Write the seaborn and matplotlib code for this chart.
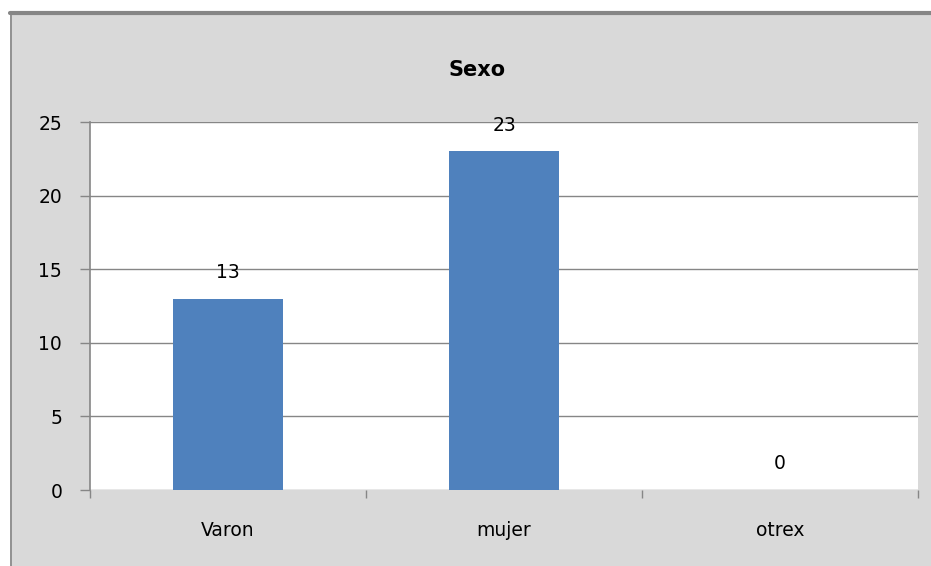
import matplotlib
matplotlib.use("Agg")
import matplotlib.pyplot as plt
import matplotlib.patches as mpatches
import seaborn as sns
import numpy as np

categorias = ["Varon", "mujer", "otrex"]
valores = [13, 23, 0]
titulo = "Sexo"
y_ticks = [0, 5, 10, 15, 20, 25]

sns.set_style("white")
plt.rcParams["font.family"] = ["DejaVu Sans"]
plt.rcParams["text.color"] = "black"
plt.rcParams["xtick.color"] = "black"
plt.rcParams["ytick.color"] = "black"

fig = plt.figure(figsize=(9.31, 5.66), dpi=100)
fig.patch.set_facecolor("white")

# panel gris con borde arriba e izquierda
W, H = 931, 566
fondo = mpatches.Rectangle((10 / W, 0), 1 - 10 / W, 1 - 13 / H, transform=fig.transFigure,
                           facecolor="#d9d9d9", edgecolor="none", zorder=-2)
fig.add_artist(fondo)
fig.add_artist(plt.Line2D([10 / W, 1], [1 - 13 / H, 1 - 13 / H], transform=fig.transFigure,
                          color="#868686", lw=3, zorder=-1))
fig.add_artist(plt.Line2D([10.5 / W, 10.5 / W], [0, 1 - 13 / H], transform=fig.transFigure,
                          color="#868686", lw=1.2, zorder=-1))

ax = fig.add_axes([90 / W, 1 - 490 / H, 828 / W, 368 / H])
ax.set_facecolor("white")

sns.barplot(x=categorias, y=valores, color="#4f81bd", width=0.4, saturation=1,
            edgecolor="none", linewidth=0, ax=ax, zorder=3)

ax.set_ylim(0, 25)
ax.set_xlim(-0.5, 2.5)
ax.set_yticks(y_ticks)
ax.yaxis.grid(True, color="#868686", lw=1)
ax.set_axisbelow(True)

for s in ["top", "right", "bottom"]:
    ax.spines[s].set_visible(False)
ax.spines["left"].set_color("#868686")
ax.spines["left"].set_linewidth(1.2)

ax.tick_params(axis="y", left=True, length=7, width=1, color="#868686",
               labelsize=13.5, pad=13, labelcolor="black")
ax.tick_params(axis="x", bottom=False, labelsize=13.5, pad=19, labelcolor="black")
ax.set_xticks(np.arange(-0.5, 3.0, 1.0), minor=True)
ax.tick_params(axis="x", which="minor", bottom=True, length=6, width=1, color="#868686")

ax.set_xlabel("")
ax.set_ylabel("")

for i, v in enumerate(valores):
    ax.annotate(str(v), (i, v), xytext=(0, 12), textcoords="offset points",
                ha="center", va="bottom", fontsize=13.5, color="black")

fig.text(477 / W, 1 - 70 / H, titulo, ha="center", va="center", fontsize=15,
         fontweight="bold", color="black")

fig.savefig("out.png", dpi=100)
